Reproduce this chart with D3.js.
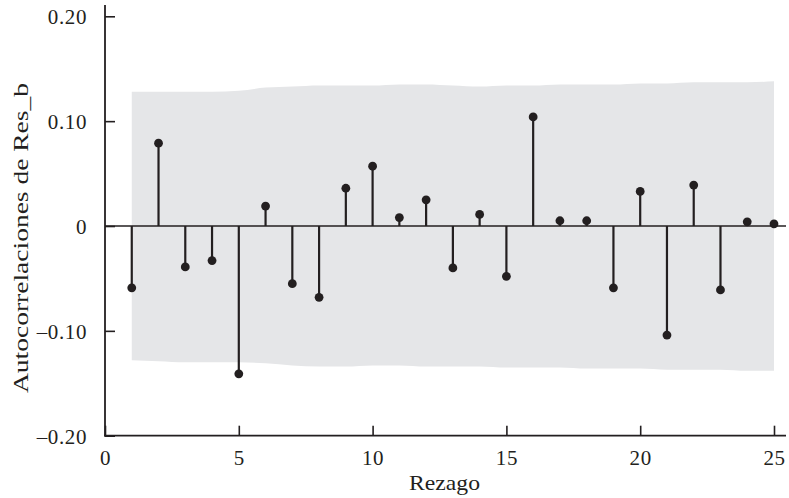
<!DOCTYPE html>
<html>
<head>
<meta charset="utf-8">
<script src="https://cdn.jsdelivr.net/npm/d3@7"></script>
<style>
  html, body { margin: 0; padding: 0; background: #ffffff; }
  svg { display: block; }
  text { font-family: "Liberation Serif", "DejaVu Serif", serif; fill: #231f20; }
</style>
</head>
<body>
<svg id="chart" width="789" height="498"></svg>
<script>
// ---- data ----
const lags = [1,2,3,4,5,6,7,8,9,10,11,12,13,14,15,16,17,18,19,20,21,22,23,24,25];
const acf = [-0.059, 0.079, -0.039, -0.033, -0.141, 0.019, -0.055, -0.068, 0.036, 0.057,
             0.008, 0.025, -0.040, 0.011, -0.048, 0.104, 0.005, 0.005, -0.059, 0.033,
             -0.104, 0.039, -0.061, 0.004, 0.002];
const upperBand = [0.128, 0.128, 0.128, 0.128, 0.129, 0.132, 0.133, 0.134, 0.134, 0.134,
                   0.135, 0.135, 0.134, 0.133, 0.134, 0.134, 0.135, 0.135, 0.135, 0.136,
                   0.136, 0.137, 0.137, 0.137, 0.138];
const lowerBand = [-0.128, -0.129, -0.130, -0.130, -0.130, -0.131, -0.133, -0.134, -0.134, -0.133,
                   -0.133, -0.134, -0.134, -0.134, -0.135, -0.135, -0.135, -0.136, -0.136, -0.136,
                   -0.137, -0.137, -0.137, -0.138, -0.138];
const xTicks = [0, 5, 10, 15, 20, 25];
const xTickLabels = ["0", "5", "10", "15", "20", "25"];
const yTicks = [-0.2, -0.1, 0, 0.1, 0.2];
const yTickLabels = ["\u20130.20", "\u20130.10", "0", "0.10", "0.20"];
const xTitle = "Rezago";
const yTitle = "Autocorrelaciones de Res_b";

// ---- layout ----
const ink = "#231f20";
const svg = d3.select("#chart");
const x = d3.scaleLinear().domain([0, 25]).range([105, 774]);
const y = d3.scaleLinear().domain([-0.2, 0.2]).range([435.7, 16.3]);

const band = lags.map((l, i) => ({ lag: l, hi: upperBand[i], lo: lowerBand[i] }));

// confidence band
svg.append("path")
  .datum(band)
  .attr("d", d3.area()
    .x(d => x(d.lag))
    .y0(d => y(d.lo))
    .y1(d => y(d.hi))
    .curve(d3.curveMonotoneX))
  .attr("fill", "#e5e6e8");

// zero line
svg.append("line")
  .attr("x1", x(0)).attr("x2", 786)
  .attr("y1", y(0)).attr("y2", y(0))
  .attr("stroke", ink).attr("stroke-width", 1.6);

// stems
const pts = lags.map((l, i) => ({ lag: l, v: acf[i] }));
svg.append("g").selectAll("line").data(pts).join("line")
  .attr("x1", d => x(d.lag)).attr("x2", d => x(d.lag))
  .attr("y1", y(0)).attr("y2", d => y(d.v))
  .attr("stroke", ink).attr("stroke-width", 2.2);
svg.append("g").selectAll("circle").data(pts).join("circle")
  .attr("cx", d => x(d.lag)).attr("cy", d => y(d.v))
  .attr("r", 4.4).attr("fill", ink);

// y axis
const yAxis = d3.axisLeft(y)
  .tickValues(yTicks)
  .tickFormat((d, i) => yTickLabels[i])
  .tickSizeInner(-10).tickSizeOuter(0).tickPadding(18);
const gy = svg.append("g").attr("transform", `translate(${x(0)},0)`).call(yAxis);
gy.select(".domain").remove();
gy.selectAll(".tick line").attr("stroke", ink).attr("stroke-width", 1.6);
gy.selectAll(".tick text").attr("font-size", 21).attr("font-family", "Liberation Serif")
  .attr("fill", ink).attr("letter-spacing", 0.6).attr("dy", "0.36em");
svg.append("line").attr("x1", x(0)).attr("x2", x(0)).attr("y1", 5).attr("y2", y(-0.2) + 0.8)
  .attr("stroke", ink).attr("stroke-width", 1.8);

// x axis
const xAxis = d3.axisBottom(x)
  .tickValues(xTicks)
  .tickFormat((d, i) => xTickLabels[i])
  .tickSizeInner(-10).tickSizeOuter(0).tickPadding(14);
const gx = svg.append("g").attr("transform", `translate(0,${y(-0.2)})`).call(xAxis);
gx.select(".domain").remove();
gx.selectAll(".tick line").attr("stroke", ink).attr("stroke-width", 1.6);
gx.selectAll(".tick text").attr("font-size", 21).attr("font-family", "Liberation Serif")
  .attr("fill", ink).attr("letter-spacing", 0.6).attr("dy", "0.71em");
svg.append("line").attr("x1", x(0) - 0.9).attr("x2", 786).attr("y1", y(-0.2)).attr("y2", y(-0.2))
  .attr("stroke", ink).attr("stroke-width", 1.8);

// titles
svg.append("text")
  .attr("x", 444.5).attr("y", 490)
  .attr("text-anchor", "middle")
  .attr("font-size", 22)
  .attr("textLength", 71).attr("lengthAdjust", "spacingAndGlyphs")
  .text(xTitle);
svg.append("text")
  .attr("transform", "translate(28,238) rotate(-90)")
  .attr("text-anchor", "middle")
  .attr("font-size", 22)
  .attr("textLength", 310).attr("lengthAdjust", "spacingAndGlyphs")
  .text(yTitle);
</script>
</body>
</html>
